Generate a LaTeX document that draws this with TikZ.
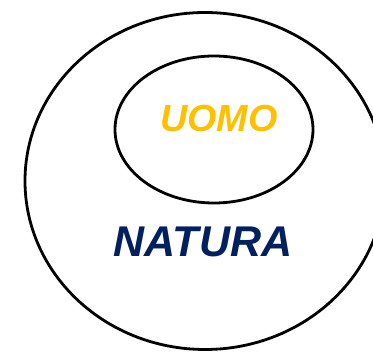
\documentclass[tikz,border=0pt]{standalone}
\usepackage{fontspec}
\usepackage{tikz}
\usepackage{xcolor}
\newfontfamily\labelfont{Liberation Sans}
\definecolor{uomogold}{HTML}{FFC000}
\definecolor{naturanavy}{HTML}{002060}

\begin{document}
\begin{tikzpicture}[x=1pt,y=-1pt,every node/.style={inner sep=0pt},
  ring/.style={draw=black,line width=2.8pt},
  word/.style={font=\labelfont\bfseries\itshape}]
\useasboundingbox (0,0) rectangle (373,352);
\clip (0,0) rectangle (373,352);
\fill[white] (0,0) rectangle (373,352);
\draw[ring] (205,181) ellipse [x radius=180,y radius=168.5];
\draw[ring] (214,129.5) ellipse [x radius=99,y radius=73.5];
\node[word,text=uomogold,font=\labelfont\bfseries\itshape\fontsize{37.7}{40}\selectfont] (uomo) at (219,119) {UOMO};
\node[word,text=naturanavy,font=\labelfont\bfseries\itshape\fontsize{43}{46}\selectfont] (natura) at (203,242) {NATURA};
\end{tikzpicture}
\end{document}
